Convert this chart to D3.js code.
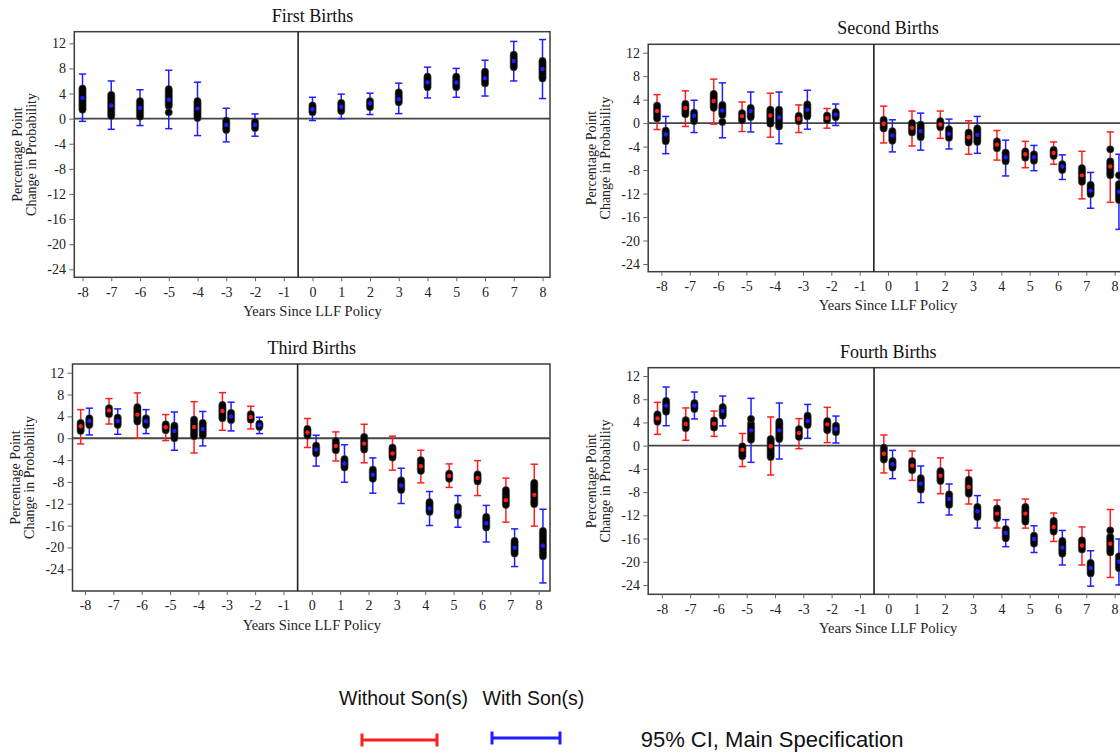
<!DOCTYPE html>
<html>
<head>
<meta charset="utf-8">
<script src="https://cdn.jsdelivr.net/npm/d3@7"></script>
<style>
  body { margin: 0; background: #fff; }
  svg { display: block; }
</style>
</head>
<body>
<svg id="chart" width="1120" height="754"></svg>
<script>
// event-study years (-1 is the omitted reference year)
const years = [-8, -7, -6, -5, -4, -3, -2, 0, 1, 2, 3, 4, 5, 6, 7, 8];
const xTicks = [-8, -7, -6, -5, -4, -3, -2, -1, 0, 1, 2, 3, 4, 5, 6, 7, 8];
const yTicks = [12, 8, 4, 0, -4, -8, -12, -16, -20, -24];

// First births, pooled (blue)
const firstEst   = [3.3, 2.1, 1.7, 3.0, 1.6, -1.0, -1.0, 1.5, 1.9, 2.45, 3.1, 5.8, 5.75, 6.45, 9.2, 7.9];
const firstLo    = [-0.43, -1.7, -1.1, -1.6, -2.7, -3.7, -2.8, -0.3, 0, 0.65, 0.8, 3.3, 3.4, 3.6, 6.0, 3.2];
const firstHi    = [7.1, 6.0, 4.6, 7.7, 5.8, 1.65, 0.75, 3.4, 3.9, 4.05, 5.65, 8.2, 8.0, 9.3, 12.3, 12.6];
const firstAltLo = [1.4, 0.4, 0.3, 2.0, 0.1, -1.8, -1.5, 1.0, 1.2, 1.8, 2.6, 5.0, 5.0, 5.6, 8.2, 6.4];
const firstAltHi = [4.8, 3.8, 2.8, 4.7, 2.8, -0.3, -0.5, 2.1, 2.5, 2.8, 4.2, 6.7, 6.7, 7.5, 10.2, 9.2];
const firstExtra = [[-5, 1.0]];

// Second births, without son(s) (red)
const secondNoEst   = [2.06, 2.57, 3.77, 1.2, 1.3, 0.74, 0.86, -0.11, -0.8, -0.23, -2.4, -3.66, -5.3, -5.1, -8.9, -7.4];
const secondNoLo    = [-1.09, -0.57, -0.17, -1.43, -2.4, -1.6, -0.86, -3.37, -3.9, -2.6, -5.3, -6.3, -7.6, -7.0, -12.9, -13.5];
const secondNoHi    = [4.86, 5.5, 7.5, 3.6, 5.1, 3.1, 2.5, 2.9, 2.06, 2.06, 0.4, -1.26, -3.1, -3.2, -4.8, -1.5];
const secondNoAltLo = [0.8, 1.5, 2.6, 0.46, -0.1, 0.34, 0.5, -0.9, -1.6, -0.69, -3.3, -4.3, -5.9, -5.6, -10.0, -8.9];
const secondNoAltHi = [3.0, 3.3, 5.0, 1.7, 2.3, 1.26, 1.3, 0.57, 0, 0.34, -1.6, -3.1, -4.8, -4.57, -7.66, -6.5];
const secondNoExtra = [[8, -4.46]];
// Second births, with son(s) (blue)
const secondSonEst   = [-1.94, 1.26, 2.17, 2.06, 0.97, 2.29, 1.49, -2.1, -1.37, -1.83, -2.0, -5.8, -5.8, -7.4, -11.5, -11.7];
const secondSonLo    = [-5.2, -1.6, -2.5, -1.5, -3.5, -1.03, -0.4, -4.9, -4.6, -4.4, -5.14, -9.0, -8.1, -9.6, -14.5, -18.1];
const secondSonHi    = [1.14, 3.9, 6.86, 5.3, 5.3, 5.6, 3.26, 0.57, 1.7, 0.69, 1.14, -2.9, -3.8, -5.4, -8.4, -5.3];
const secondSonAltLo = [-3.1, 0.34, 1.4, 1.03, -0.57, 1.14, 1.0, -3.0, -2.4, -2.5, -3.2, -6.5, -6.4, -8.0, -12.1, -13.1];
const secondSonAltHi = [-1.26, 1.8, 3.1, 2.6, 2.3, 3.2, 1.9, -1.37, -0.23, -1.03, -0.9, -5.0, -5.3, -7.0, -10.5, -10.4];
const secondSonExtra = [[-6, 0.2], [8, -8.9]];

// Third births
const thirdNoEst   = [2.2, 5.1, 4.33, 2.0, 2.07, 5.0, 3.9, 1.04, -1.4, -0.98, -2.8, -5.12, -6.9, -7.26, -11.34, -10.37];
const thirdNoLo    = [-1.04, 2.6, 0, -0.43, -2.7, 1.46, 1.7, -1.7, -4.15, -4.5, -5.85, -8.17, -9.0, -10.5, -15.37, -16.1];
const thirdNoHi    = [5.24, 7.26, 8.3, 4.33, 6.7, 8.35, 5.85, 3.6, 1.16, 2.56, 0.37, -2.2, -4.7, -4.1, -7.3, -4.76];
const thirdNoAltLo = [1.34, 4.4, 3.05, 1.46, 0.37, 3.66, 3.4, 0.49, -2.2, -2.07, -3.54, -5.98, -7.44, -7.9, -12.2, -12.07];
const thirdNoAltHi = [2.8, 5.5, 5.7, 2.56, 3.4, 6.1, 4.4, 1.7, -0.49, 0.24, -1.7, -4.0, -6.46, -6.6, -9.5, -8.17];
const thirdSonEst   = [3.17, 3.17, 3.1, 1.34, 1.7, 4.0, 2.38, -2.07, -4.63, -6.7, -8.66, -12.87, -13.5, -15.55, -20.06, -19.7];
const thirdSonLo    = [0.6, 0.73, 0.85, -2.2, -1.4, 1.34, 0.85, -5.1, -8.05, -10.06, -11.95, -15.98, -16.3, -19.0, -23.5, -26.5];
const thirdSonHi    = [5.5, 5.37, 5.24, 4.8, 4.9, 6.6, 3.84, 0.55, -1.2, -3.6, -5.5, -9.76, -10.5, -12.3, -16.6, -13.0];
const thirdSonAltLo = [2.44, 2.44, 2.44, 0, 0.49, 3.3, 2.07, -2.8, -5.37, -7.44, -9.5, -13.5, -14.15, -16.34, -21.1, -21.6];
const thirdSonAltHi = [3.66, 3.8, 3.66, 2.3, 2.8, 4.63, 2.68, -1.34, -3.8, -5.73, -7.7, -11.7, -12.56, -14.4, -18.8, -16.95];

// Fourth births
const fourthNoEst   = [4.7, 3.73, 3.8, -0.69, -0.11, 2.18, 3.67, -1.38, -3.44, -5.17, -7.12, -11.7, -11.7, -14.0, -17.2, -16.9];
const fourthNoLo    = [1.95, 0.92, 1.6, -3.6, -5.05, -0.52, 0.52, -4.7, -5.97, -8.27, -10.05, -14.18, -14.2, -16.5, -20.55, -22.7];
const fourthNoHi    = [7.46, 6.5, 5.97, 2.1, 4.94, 4.65, 6.6, 1.84, -0.92, -2.1, -4.25, -9.36, -9.2, -11.6, -14.0, -11.0];
const fourthNoAltLo = [4.13, 3.0, 3.1, -1.84, -1.95, 1.5, 2.64, -2.4, -4.25, -6.08, -8.27, -12.5, -13.1, -14.8, -17.9, -18.4];
const fourthNoAltHi = [5.4, 4.4, 4.36, -0.11, 1.15, 2.87, 4.25, -0.34, -2.64, -4.36, -5.86, -10.8, -10.56, -12.97, -16.3, -15.7];
const fourthNoExtra = [[8, -14.6]];
const fourthSonEst   = [6.9, 6.9, 5.97, 2.64, 2.64, 4.25, 2.87, -3.2, -6.54, -9.18, -11.3, -15.04, -16.07, -17.57, -21.07, -20.0];
const fourthSonLo    = [3.44, 4.6, 3.4, -2.87, -2.3, 1.26, 0.46, -5.68, -9.8, -11.94, -14.2, -17.4, -18.4, -20.55, -24.2, -24.0];
const fourthSonHi    = [10.1, 9.24, 8.55, 8.15, 7.35, 7.1, 5.1, -0.8, -3.5, -6.6, -8.6, -12.74, -13.8, -14.6, -18.1, -16.07];
const fourthSonAltLo = [5.86, 6.3, 5.17, 1.03, 1.15, 3.56, 2.3, -3.8, -7.58, -10.2, -12.3, -15.96, -16.88, -18.6, -22.0, -21.1];
const fourthSonAltHi = [7.7, 7.35, 6.66, 3.8, 4.13, 5.17, 3.44, -2.64, -5.6, -8.38, -10.56, -14.35, -15.5, -16.4, -20.2, -19.06];
const fourthSonExtra = [[-5, 4.6]];

const legendLabels = ["Without Son(s)", "With Son(s)"];
const legendNote = "95% CI, Main Specification";

const RED = "#ff1e1e", BLUE = "#1e1eff";
const svg = d3.select("#chart");

function series(color, offset, est, lo, hi, altLo, altHi, extra) {
  return {
    color, offset, extra: extra || [],
    rows: years.map((yr, i) => ({ yr, est: est[i], lo: lo[i], hi: hi[i], altLo: altLo[i], altHi: altHi[i] }))
  };
}

function drawPanel(p, title, list) {
  const g = svg.append("g");
  const x = d3.scaleLinear().domain([-8, 8]).range([p.x0, p.x1]);
  const y = d3.scaleLinear().domain([12, -24]).range([p.y0, p.y1]);
  const serif = "'Liberation Serif', 'Times New Roman', serif";

  g.append("rect")
    .attr("x", p.left).attr("y", p.top)
    .attr("width", p.right - p.left).attr("height", p.bottom - p.top)
    .attr("fill", "none").attr("stroke", "#3c3c3c").attr("stroke-width", 1.5);

  g.append("line")
    .attr("x1", p.left).attr("x2", p.right)
    .attr("y1", y(0)).attr("y2", y(0))
    .attr("stroke", "#444").attr("stroke-width", 1.8);

  g.append("line")
    .attr("x1", x(-0.5)).attr("x2", x(-0.5))
    .attr("y1", p.top).attr("y2", p.bottom)
    .attr("stroke", "#222").attr("stroke-width", 1.6);

  const yAxis = g.append("g")
    .attr("transform", `translate(${p.left},0)`)
    .call(d3.axisLeft(y).tickValues(yTicks).tickSize(5).tickPadding(3.3).tickFormat(d => d));
  const xAxis = g.append("g")
    .attr("transform", `translate(0,${p.bottom})`)
    .call(d3.axisBottom(x).tickValues(xTicks).tickSize(4).tickPadding(5.5).tickFormat(d => d));
  [yAxis, xAxis].forEach(a => {
    a.select(".domain").remove();
    a.selectAll(".tick line").attr("stroke", "#666");
    a.selectAll("text").attr("font-family", serif).attr("font-size", 14).attr("fill", "#222");
  });

  g.append("text")
    .attr("x", (p.x0 + p.x1) / 2).attr("y", p.top - 10)
    .attr("text-anchor", "middle")
    .attr("font-family", serif).attr("font-size", 18).attr("fill", "#111")
    .text(title);

  g.append("text")
    .attr("x", (p.x0 + p.x1) / 2).attr("y", p.bottom + 38.5)
    .attr("text-anchor", "middle")
    .attr("font-family", serif).attr("font-size", 14.5).attr("fill", "#222")
    .text("Years Since LLF Policy");

  const cy = (p.top + p.bottom) / 2;
  [["Percentage Point", 57.5], ["Change in Probability", 43.5]].forEach(([t, dx]) => {
    g.append("text")
      .attr("transform", `translate(${p.left - dx},${cy}) rotate(-90)`)
      .attr("dy", "0.35em")
      .attr("text-anchor", "middle")
      .attr("font-family", serif).attr("font-size", 14).attr("fill", "#222")
      .text(t);
  });

  const r = 3.6;
  list.forEach(s => {
    const sg = g.append("g");
    const px = d => x(d.yr + s.offset);
    // 95% confidence intervals with end caps
    sg.selectAll(".ci").data(s.rows).join("line")
      .attr("x1", px).attr("x2", px)
      .attr("y1", d => y(d.hi)).attr("y2", d => y(d.lo))
      .attr("stroke", s.color).attr("stroke-width", 1.5);
    ["hi", "lo"].forEach(k => {
      sg.selectAll(".cap" + k).data(s.rows).join("line")
        .attr("x1", d => px(d) - 3.6).attr("x2", d => px(d) + 3.6)
        .attr("y1", d => y(d[k])).attr("y2", d => y(d[k]))
        .attr("stroke", s.color).attr("stroke-width", 1.5);
    });
    // alternative specifications (black cluster)
    sg.selectAll(".alt").data(s.rows).join("rect")
      .attr("x", d => px(d) - r).attr("width", 2 * r)
      .attr("y", d => y(d.altHi) - r)
      .attr("height", d => y(d.altLo) - y(d.altHi) + 2 * r)
      .attr("rx", r).attr("ry", r)
      .attr("fill", "#050505").attr("stroke", "#444").attr("stroke-width", 0.6);
    sg.selectAll(".extra").data(s.extra).join("circle")
      .attr("cx", d => x(d[0] + s.offset)).attr("cy", d => y(d[1]))
      .attr("r", r).attr("fill", "#050505").attr("stroke", "#444").attr("stroke-width", 0.6);
    // main estimate
    sg.selectAll(".est").data(s.rows).join("circle")
      .attr("cx", px).attr("cy", d => y(d.est))
      .attr("r", 2.2).attr("fill", s.color);
  });
}

const off = 0.153;
drawPanel({ x0: 82.5, x1: 542.5, y0: 43.3, y1: 269.3, left: 74.3, right: 550, top: 31.7, bottom: 277.3 },
  "First Births",
  [series(BLUE, 0, firstEst, firstLo, firstHi, firstAltLo, firstAltHi, firstExtra)]);

drawPanel({ x0: 661.4, x1: 1114.6, y0: 52.7, y1: 264, left: 648.2, right: 1128, top: 44.3, bottom: 271.7 },
  "Second Births",
  [series(RED, -off, secondNoEst, secondNoLo, secondNoHi, secondNoAltLo, secondNoAltHi, secondNoExtra),
   series(BLUE, off, secondSonEst, secondSonLo, secondSonHi, secondSonAltLo, secondSonAltHi, secondSonExtra)]);

drawPanel({ x0: 85, x1: 538.6, y0: 372.7, y1: 569.3, left: 72.5, right: 550, top: 364, bottom: 591 },
  "Third Births",
  [series(RED, -off, thirdNoEst, thirdNoLo, thirdNoHi, thirdNoAltLo, thirdNoAltHi),
   series(BLUE, off, thirdSonEst, thirdSonLo, thirdSonHi, thirdSonAltLo, thirdSonAltHi)]);

drawPanel({ x0: 661.8, x1: 1114.6, y0: 376, y1: 585, left: 648.2, right: 1128, top: 367.7, bottom: 594.3 },
  "Fourth Births",
  [series(RED, -off, fourthNoEst, fourthNoLo, fourthNoHi, fourthNoAltLo, fourthNoAltHi, fourthNoExtra),
   series(BLUE, off, fourthSonEst, fourthSonLo, fourthSonHi, fourthSonAltLo, fourthSonAltHi, fourthSonExtra)]);

// legend
const sans = "'Liberation Sans', Arial, sans-serif";
const lg = svg.append("g");
const legendItems = [
  { label: legendLabels[0], color: RED, tx: 339, x1: 362, x2: 437, ly: 740 },
  { label: legendLabels[1], color: BLUE, tx: 482.5, x1: 492, x2: 560, ly: 738 }
];
legendItems.forEach(it => {
  lg.append("text").attr("x", it.tx).attr("y", 705)
    .attr("font-family", sans).attr("font-size", 19.5).attr("fill", "#111")
    .text(it.label);
  lg.append("line").attr("x1", it.x1).attr("x2", it.x2).attr("y1", it.ly).attr("y2", it.ly)
    .attr("stroke", it.color).attr("stroke-width", 3);
  [it.x1, it.x2].forEach(cx => {
    lg.append("line").attr("x1", cx).attr("x2", cx).attr("y1", it.ly - 6.5).attr("y2", it.ly + 6.5)
      .attr("stroke", it.color).attr("stroke-width", 3);
  });
});
lg.append("text").attr("x", 640.7).attr("y", 747)
  .attr("font-family", sans).attr("font-size", 22).attr("fill", "#111")
  .text(legendNote);
</script>
</body>
</html>
